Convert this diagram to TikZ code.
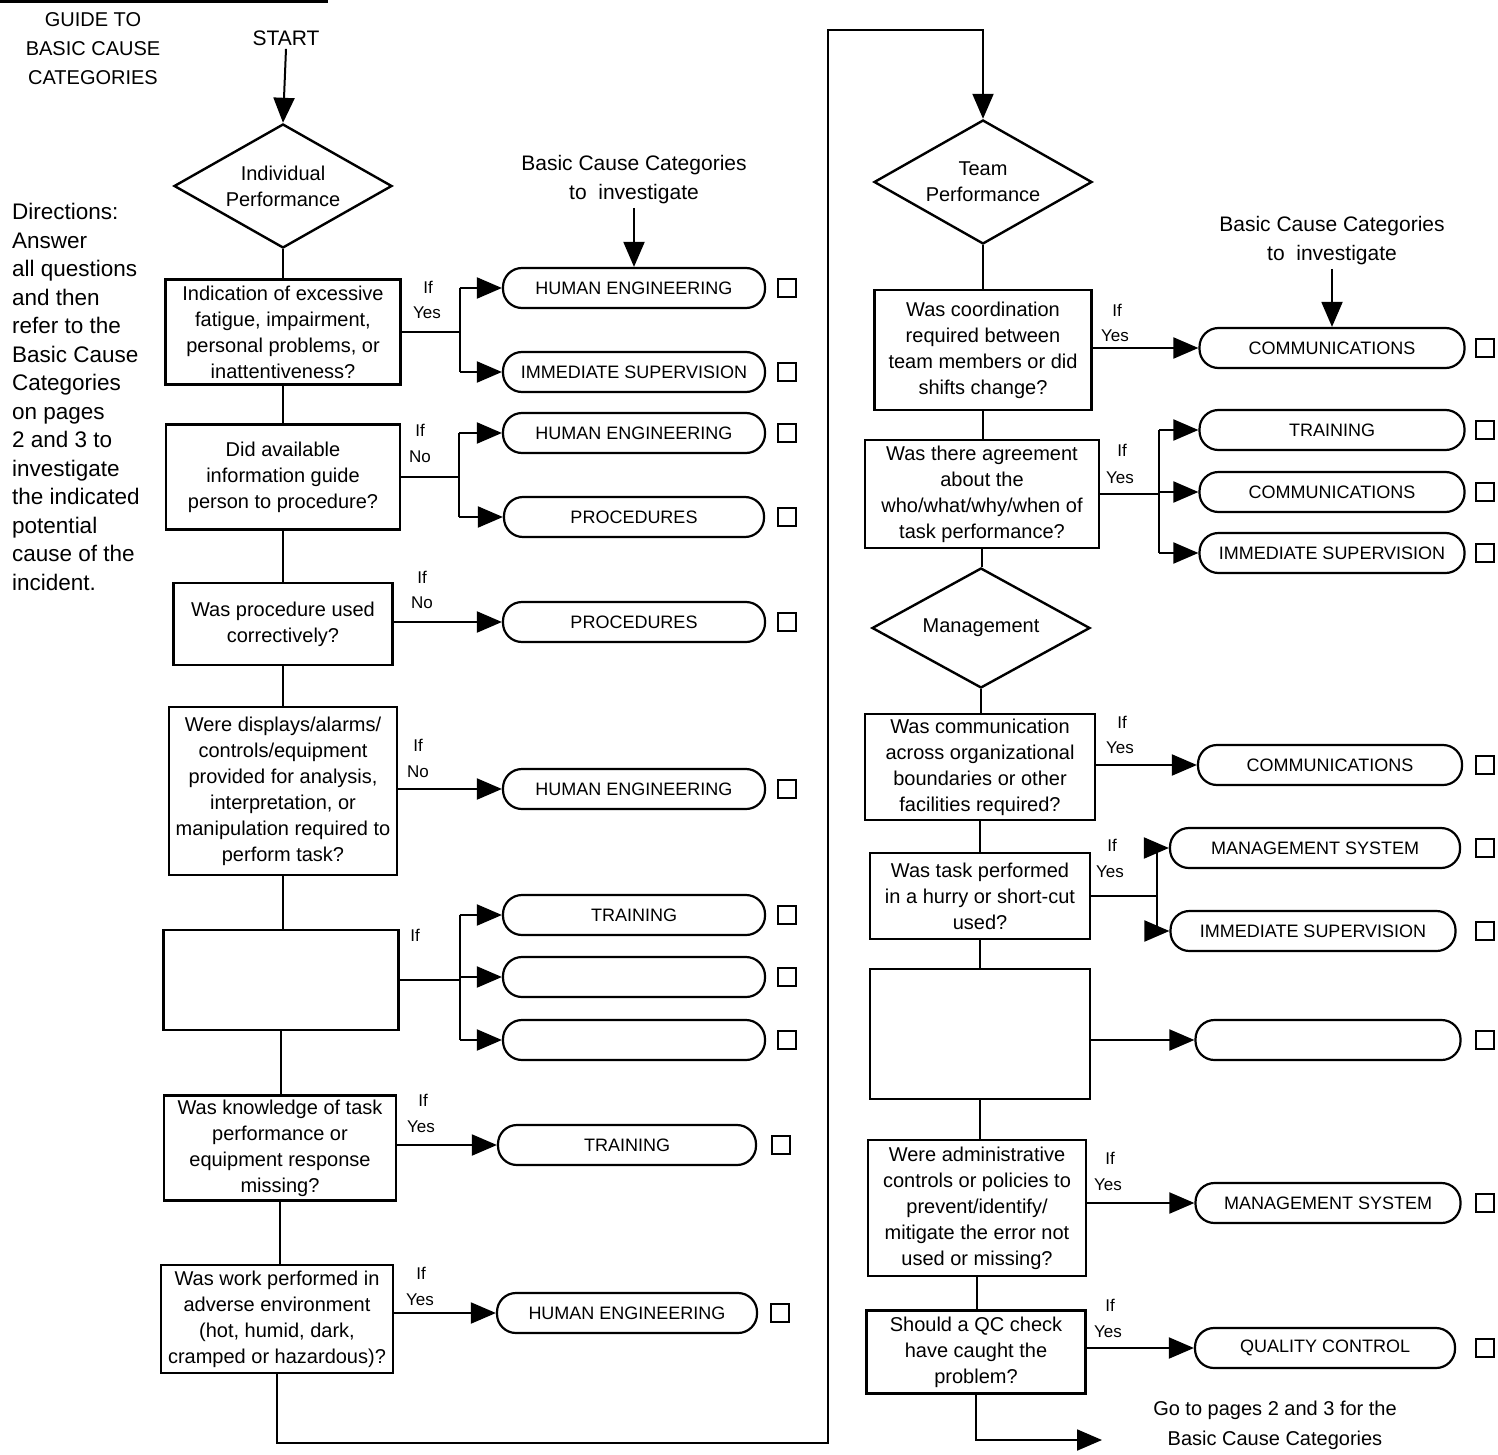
\documentclass[tikz,border=0pt]{standalone}
\usepackage{fontspec}
\setmainfont{Liberation Sans}
\usetikzlibrary{arrows.meta,shapes.geometric,calc}
\newcommand\qfnt{\fontsize{20}{26}\selectfont}
\newcommand\tfnt{\fontsize{18}{20}\selectfont}
\newcommand\lfnt{\fontsize{17}{20}\selectfont}
\newcommand\hfnt{\fontsize{22.5}{28.5}\selectfont}
\begin{document}
\begin{tikzpicture}[x=1pt,y=-1pt,
  qbox/.style={draw,line width=2.4pt,align=center,font=\qfnt,inner sep=1pt},
  term/.style={draw,rounded corners=19pt,line width=2.2pt,font=\tfnt,minimum height=40pt,inner sep=0pt},
  chk/.style={draw,line width=2pt,minimum size=18pt,inner sep=0pt},
  dia/.style={draw,diamond,aspect=1.76,line width=2.4pt,align=center,font=\qfnt,inner sep=0pt,minimum width=218pt,minimum height=124pt},
  lbl/.style={font=\lfnt,inner sep=0pt},
  conn/.style={line width=2pt},
  arr/.style={conn,-{Triangle[length=25pt,width=21pt]}}]
\useasboundingbox (0,0) rectangle (1498,1455);
\fill[white] (0,0) rectangle (1498,1455);
\draw[line width=3pt] (0,1.5) -- (328,1.5);

% headings
\node[font=\fontsize{20}{29}\selectfont,align=center] (title) at (93,49) {GUIDE TO\\BASIC CAUSE\\CATEGORIES};
\node[font=\fontsize{21}{25}\selectfont] (start) at (286,38) {START};
\node[font=\hfnt,align=left,anchor=north west,inner sep=0pt] (dir) at (12,203) {Directions:\\Answer\\all questions\\and then\\refer to the\\Basic Cause\\Categories\\on pages\\2 and 3 to\\investigate\\the indicated\\potential\\cause of the\\incident.};
\node[font=\fontsize{21}{29}\selectfont,align=center] (bcc1) at (634,180) {Basic Cause Categories\\to\ \ investigate};
\node[font=\fontsize{21}{29}\selectfont,align=center] (bcc2) at (1332,241) {Basic Cause Categories\\to\ \ investigate};
\node[font=\fontsize{20}{30}\selectfont,align=center] (goto) at (1275,1425) {Go to pages 2 and 3 for the\\Basic Cause Categories};

% left column
\node[dia] (d1) at (283,186) {Individual\\Performance};
\node[qbox,minimum width=235pt,minimum height=105pt] (q1) at (283,332) {Indication of excessive\\fatigue, impairment,\\personal problems, or\\inattentiveness?};
\node[qbox,minimum width=234pt,minimum height=105pt] (q2) at (283,477) {Did available\\information guide\\person to procedure?};
\node[qbox,minimum width=219pt,minimum height=82pt] (q3) at (283,624) {Was procedure used\\correctively?};
\node[qbox,minimum width=228pt,minimum height=168pt] (q4) at (283,791) {Were displays/alarms/\\controls/equipment\\provided for analysis,\\interpretation, or\\manipulation required to\\perform task?};
\node[qbox,minimum width=235pt,minimum height=100pt] (q5) at (281,980) {};
\node[qbox,minimum width=232pt,minimum height=105pt] (q6) at (280,1148) {Was knowledge of task\\performance or\\equipment response\\missing?};
\node[qbox,minimum width=232pt,minimum height=108pt] (q7) at (277,1319) {Was work performed in\\adverse environment\\(hot, humid, dark,\\cramped or hazardous)?};

\node[term,minimum width=262pt] (t1a) at (634,288) {HUMAN ENGINEERING};
\node[term,minimum width=262pt] (t1b) at (634,372) {IMMEDIATE SUPERVISION};
\node[term,minimum width=262pt] (t2a) at (634,433) {HUMAN ENGINEERING};
\node[term,minimum width=260pt] (t2b) at (634,517) {PROCEDURES};
\node[term,minimum width=262pt] (t3) at (634,622) {PROCEDURES};
\node[term,minimum width=262pt] (t4) at (634,789) {HUMAN ENGINEERING};
\node[term,minimum width=262pt] (t5a) at (634,915) {TRAINING};
\node[term,minimum width=262pt] (t5b) at (634,977) {};
\node[term,minimum width=262pt] (t5c) at (634,1040) {};
\node[term,minimum width=258pt] (t6) at (627,1145) {TRAINING};
\node[term,minimum width=260pt] (t7) at (627,1313) {HUMAN ENGINEERING};

\foreach \n/\yy in {k1a/288,k1b/372,k2a/433,k2b/517,k3/622,k4/789,k5a/915,k5b/977,k5c/1040}
  \node[chk] (\n) at (787,\yy) {};
\node[chk] (k6) at (781,1145) {};
\node[chk] (k7) at (780,1313) {};

\node[lbl] (if1) at (428,287) {If};   \node[lbl] (yes1) at (427,313) {Yes};
\node[lbl] (if2) at (420,430) {If};   \node[lbl] (no2) at (420,457) {No};
\node[lbl] (if3) at (422,577) {If};   \node[lbl] (no3) at (422,603) {No};
\node[lbl] (if4) at (418,745) {If};   \node[lbl] (no4) at (418,772) {No};
\node[lbl] (if5) at (415,935) {If};
\node[lbl] (if6) at (423,1100) {If};  \node[lbl] (yes6) at (421,1127) {Yes};
\node[lbl] (if7) at (421,1273) {If};  \node[lbl] (yes7) at (420,1300) {Yes};

% right column
\node[dia] (d2) at (983,182) {Team\\Performance};
\node[qbox,minimum width=217pt,minimum height=120pt] (r1) at (983,350) {Was coordination\\required between\\team members or did\\shifts change?};
\node[qbox,minimum width=234pt,minimum height=108pt] (r2) at (982,494) {Was there agreement\\about the\\who/what/why/when of\\task performance?};
\node[dia,minimum height=120pt] (d3) at (981,628) {Management};
\node[qbox,minimum width=230pt,minimum height=106pt] (r3) at (980,767) {Was communication\\across organizational\\boundaries or other\\facilities required?};
\node[qbox,minimum width=220pt,minimum height=86pt] (r4) at (980,896) {Was task performed\\in a hurry or short-cut\\used?};
\node[qbox,minimum width=220pt,minimum height=130pt] (r5) at (980,1034) {};
\node[qbox,minimum width=218pt,minimum height=136pt] (r6) at (977,1208) {Were administrative\\controls or policies to\\prevent/identify/\\mitigate the error not\\used or missing?};
\node[qbox,minimum width=219pt,minimum height=83pt] (r7) at (976,1352) {Should a QC check\\have caught the\\problem?};

\node[term,minimum width=265pt] (s1) at (1332,348) {COMMUNICATIONS};
\node[term,minimum width=265pt] (s2a) at (1332,430) {TRAINING};
\node[term,minimum width=265pt] (s2b) at (1332,492) {COMMUNICATIONS};
\node[term,minimum width=265pt] (s2c) at (1332,553) {IMMEDIATE SUPERVISION};
\node[term,minimum width=264pt] (s3) at (1330,765) {COMMUNICATIONS};
\node[term,minimum width=290pt] (s4a) at (1315,848) {MANAGEMENT SYSTEM};
\node[term,minimum width=285pt] (s4b) at (1313,931) {IMMEDIATE SUPERVISION};
\node[term,minimum width=265pt] (s5) at (1328,1040) {};
\node[term,minimum width=265pt] (s6) at (1328,1203) {MANAGEMENT SYSTEM};
\node[term,minimum width=260pt] (s7) at (1325,1348) {QUALITY CONTROL};

\foreach \n/\yy in {c1/348,c2a/430,c2b/492,c2c/553,c3/765,c4a/848,c4b/931,c5/1040,c6/1203,c7/1348}
  \node[chk] (\n) at (1485,\yy) {};

\node[lbl] (ifr1) at (1117,310) {If};  \node[lbl] (yesr1) at (1115,336) {Yes};
\node[lbl] (ifr2) at (1122,450) {If};  \node[lbl] (yesr2) at (1120,478) {Yes};
\node[lbl] (ifr3) at (1122,722) {If};  \node[lbl] (yesr3) at (1120,748) {Yes};
\node[lbl] (ifr4) at (1112,845) {If};  \node[lbl] (yesr4) at (1110,872) {Yes};
\node[lbl] (ifr6) at (1110,1158) {If}; \node[lbl] (yesr6) at (1108,1185) {Yes};
\node[lbl] (ifr7) at (1110,1305) {If}; \node[lbl] (yesr7) at (1108,1332) {Yes};

% main flow lines
\draw[arr] (start.south) -- (d1.north);
\draw[arr] (bcc1.south) -- (t1a.north);
\draw[arr] (bcc2.south) -- (s1.north);
\draw[conn] (d1.south) -- (d1.south |- q1.north);
\draw[conn] (q1.south) -- (q1.south |- q2.north);
\draw[conn] (q2.south) -- (q2.south |- q3.north);
\draw[conn] (q3.south) -- (q3.south |- q4.north);
\draw[conn] (q4.south) -- (q4.south |- q5.north);
\draw[conn] (q5.south) -- (q5.south |- q6.north);
\draw[conn] (q6.south) -- (q6.south |- q7.north);
\coordinate (lp1) at (828,1443);
\coordinate (lp2) at (828,30);
\draw[arr] (q7.south) |- (lp1) -- (lp2) -| (d2.north);

\draw[conn] (d2.south) -- (d2.south |- r1.north);
\draw[conn] (r1.south) -- (r1.south |- r2.north);
\draw[conn] (r2.south) -- (r2.south |- d3.north);
\draw[conn] (d3.south) -- (d3.south |- r3.north);
\draw[conn] (r3.south) -- (r3.south |- r4.north);
\draw[conn] (r4.south) -- (r4.south |- r5.north);
\draw[conn] (r5.south) -- (r5.south |- r6.north);
\draw[conn] (r6.south) -- (r6.south |- r7.north);
\coordinate (goend) at (1102,1440);
\draw[arr] (r7.south) |- (goend);

% left branches
\draw[conn] (q1.east) -- ++(58,0) coordinate (b1);
\draw[conn] (b1 |- t1a) -- (b1 |- t1b);
\draw[arr] (b1 |- t1a) -- (t1a);
\draw[arr] (b1 |- t1b) -- (t1b);
\draw[conn] (q2.east) -- ++(58,0) coordinate (b2);
\draw[conn] (b2 |- t2a) -- (b2 |- t2b);
\draw[arr] (b2 |- t2a) -- (t2a);
\draw[arr] (b2 |- t2b) -- (t2b);
\draw[arr] (q3.east |- t3) -- (t3);
\draw[arr] (q4.east |- t4) -- (t4);
\draw[conn] (q5.east) -- ++(60,0) coordinate (b5);
\draw[conn] (b5 |- t5a) -- (b5 |- t5c);
\draw[arr] (b5 |- t5a) -- (t5a);
\draw[arr] (b5 |- t5b) -- (t5b);
\draw[arr] (b5 |- t5c) -- (t5c);
\draw[arr] (q6.east |- t6) -- (t6);
\draw[arr] (q7.east |- t7) -- (t7);

% right branches
\draw[arr] (r1.east |- s1) -- (s1);
\draw[conn] (r2.east) -- ++(59,0) coordinate (br2);
\draw[conn] (br2 |- s2a) -- (br2 |- s2c);
\draw[arr] (br2 |- s2a) -- (s2a);
\draw[arr] (br2 |- s2b) -- (s2b);
\draw[arr] (br2 |- s2c) -- (s2c);
\draw[arr] (r3.east |- s3) -- (s3);
\draw[conn] (r4.east) -- ++(66,0) coordinate (br4);
\draw[conn] (br4 |- s4a) -- (br4 |- s4b);
\draw[arr] (br4 |- s4a) -- (s4a);
\draw[arr] (br4 |- s4b) -- (s4b);
\draw[arr] (r5.east |- s5) -- (s5);
\draw[arr] (r6.east |- s6) -- (s6);
\draw[arr] (r7.east |- s7) -- (s7);
\end{tikzpicture}
\end{document}
